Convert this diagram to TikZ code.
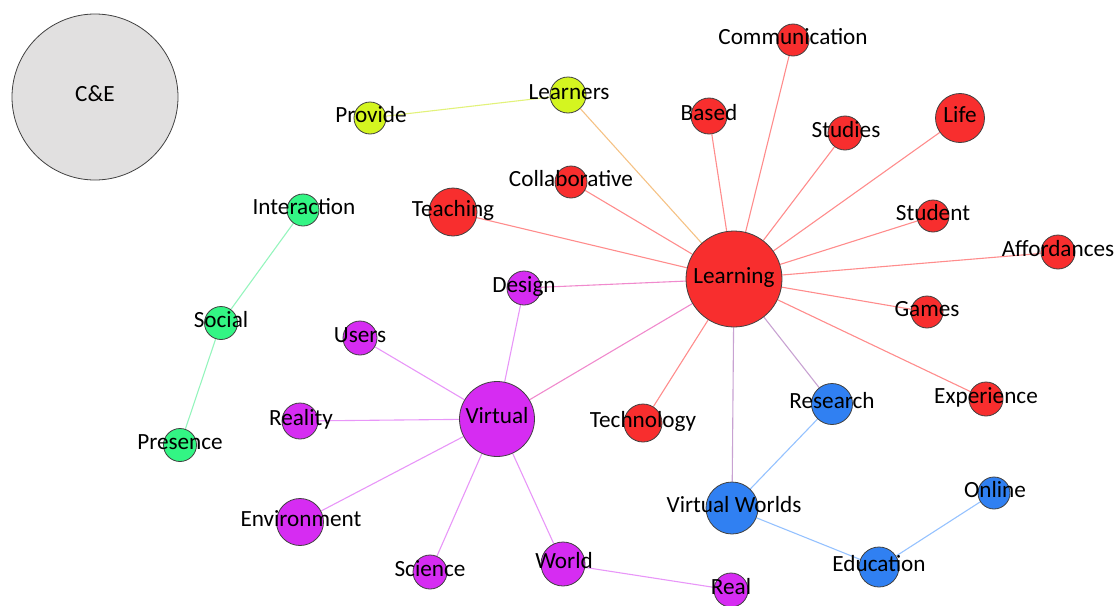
\documentclass[tikz,border=0pt]{standalone}
\usepackage{fontspec}
\setmainfont{Carlito}
\pgfdeclarelayer{bg}
\pgfsetlayers{bg,main}
\definecolor{cred}{HTML}{F82E2E}
\definecolor{cpur}{HTML}{D62CF2}
\definecolor{cblu}{HTML}{3080F2}
\definecolor{cgrn}{HTML}{33F584}
\definecolor{cyel}{HTML}{D4F520}
\definecolor{cgry}{HTML}{E1E0E0}
\definecolor{ndline}{HTML}{404040}
\definecolor{ered}{HTML}{FF8C8C}
\definecolor{eorg}{HTML}{F5C285}
\definecolor{eyel}{HTML}{E2F27A}
\definecolor{egrn}{HTML}{95F5BD}
\definecolor{epur}{HTML}{E896F8}
\definecolor{epnk}{HTML}{F08ACD}
\definecolor{emau}{HTML}{C8A2D2}
\definecolor{eblu}{HTML}{95C2FF}
\newcommand\lbfont{\fontsize{23.2}{25}\selectfont}
\tikzset{
  nd/.style={circle, draw=ndline, line width=0.8pt, inner sep=0pt, minimum size=#1},
  lb/.style={anchor=base, font=\lbfont, inner sep=0pt, text=black},
  ed/.style={line width=1.1pt},
}
\begin{document}
\begin{tikzpicture}[x=1pt,y=-1pt]
\useasboundingbox (0,0) rectangle (1118,605);
% nodes
\node[nd=166pt, fill=cgry] (ce) at (95,97) {};
\node[nd=32pt, fill=cyel] (provide) at (370,118) {};
\node[nd=36pt, fill=cyel] (learners) at (568,95) {};
\node[nd=32pt, fill=cgrn] (interaction) at (303,210) {};
\node[nd=33pt, fill=cgrn] (social) at (221,323) {};
\node[nd=33pt, fill=cgrn] (presence) at (180,445) {};
\node[nd=96pt, fill=cred] (learning) at (734,279) {};
\node[nd=32pt, fill=cred] (comm) at (793,40) {};
\node[nd=36pt, fill=cred] (based) at (709,116) {};
\node[nd=34pt, fill=cred] (studies) at (845,133) {};
\node[nd=49pt, fill=cred] (life) at (960,118) {};
\node[nd=32pt, fill=cred] (collab) at (571,182) {};
\node[nd=48pt, fill=cred] (teaching) at (453,212) {};
\node[nd=32pt, fill=cred] (student) at (933,216) {};
\node[nd=34pt, fill=cred] (afford) at (1058,252) {};
\node[nd=32pt, fill=cred] (games) at (927,312) {};
\node[nd=34pt, fill=cred] (exper) at (986,399) {};
\node[nd=38pt, fill=cred] (tech) at (643,423) {};
\node[nd=34pt, fill=cpur] (design) at (524,288) {};
\node[nd=34pt, fill=cpur] (users) at (360,338) {};
\node[nd=75pt, fill=cpur] (virtual) at (497,419) {};
\node[nd=36pt, fill=cpur] (reality) at (300,421) {};
\node[nd=47pt, fill=cpur] (env) at (300,522) {};
\node[nd=34pt, fill=cpur] (science) at (430,572) {};
\node[nd=44pt, fill=cpur] (world) at (563,564) {};
\node[nd=34pt, fill=cpur] (real) at (731,590) {};
\node[nd=41pt, fill=cblu] (research) at (832,404) {};
\node[nd=52pt, fill=cblu] (vworlds) at (732,508) {};
\node[nd=40pt, fill=cblu] (edu) at (879,567) {};
\node[nd=32pt, fill=cblu] (online) at (994,493) {};
% edges
\begin{pgfonlayer}{bg}
\draw[ed, eyel] (provide) -- (learners);
\draw[ed, eorg] (learners) -- (learning);
\draw[ed, egrn] (interaction) -- (social);
\draw[ed, egrn] (social) -- (presence);
\foreach \n in {comm,based,studies,life,collab,teaching,student,afford,games,exper,tech}
  \draw[ed, ered] (learning) -- (\n);
\draw[ed, epnk] (learning) -- (design);
\draw[ed, epnk] (learning) -- (virtual);
\draw[ed, emau] (learning) -- (vworlds);
\draw[ed, emau] (learning) -- (research);
\foreach \n in {design,users,reality,env,science,world}
  \draw[ed, epur] (virtual) -- (\n);
\draw[ed, epur] (world) -- (real);
\draw[ed, eblu] (research) -- (vworlds);
\draw[ed, eblu] (vworlds) -- (edu);
\draw[ed, eblu] (edu) -- (online);
\end{pgfonlayer}
% labels
\node[lb] (ceL) at (95,101) {C\&E};
\node[lb] (provideL) at (371,122.5) {Provide};
\node[lb] (learnersL) at (569,99.5) {Learners};
\node[lb] (interactionL) at (304,214.5) {Interaction};
\node[lb] (socialL) at (221,327.5) {Social};
\node[lb] (presenceL) at (180,449.5) {Presence};
\node[lb] (learningL) at (734,283.5) {Learning};
\node[lb] (commL) at (793,44.5) {Communication};
\node[lb] (basedL) at (709,120.5) {Based};
\node[lb] (studiesL) at (846,137.5) {Studies};
\node[lb] (lifeL) at (960,122.5) {Life};
\node[lb] (collabL) at (571,186.5) {Collaborative};
\node[lb] (teachingL) at (453,216.5) {Teaching};
\node[lb] (studentL) at (933,220.5) {Student};
\node[lb] (affordL) at (1058,256.5) {Affordances};
\node[lb] (gamesL) at (927,316.5) {Games};
\node[lb] (experL) at (986,403.5) {Experience};
\node[lb] (techL) at (643,427.5) {Technology};
\node[lb] (designL) at (524,292.5) {Design};
\node[lb] (usersL) at (360,342.5) {Users};
\node[lb] (virtualL) at (497,423.5) {Virtual};
\node[lb] (realityL) at (301,425.5) {Reality};
\node[lb] (envL) at (301,526.5) {Environment};
\node[lb] (scienceL) at (430,576.5) {Science};
\node[lb] (worldL) at (564,568.5) {World};
\node[lb] (realL) at (731,594.5) {Real};
\node[lb] (researchL) at (832,408.5) {Research};
\node[lb] (vworldsL) at (734,512.5) {Virtual Worlds};
\node[lb] (eduL) at (879,571.5) {Education};
\node[lb] (onlineL) at (995,497.5) {Online};
\end{tikzpicture}
\end{document}
